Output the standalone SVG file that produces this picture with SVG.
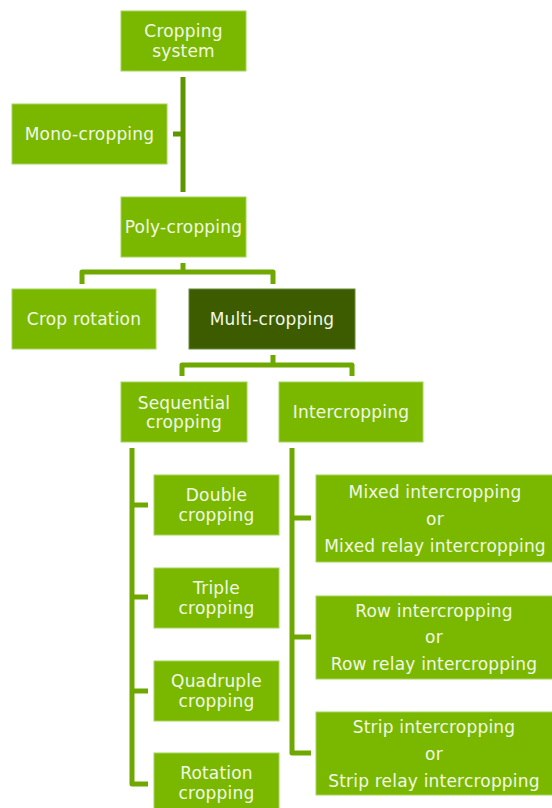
<svg xmlns="http://www.w3.org/2000/svg" width="552" height="808" viewBox="0 0 552 808">
<style>
.box{fill:#7ab800;stroke:#a6d35a;stroke-width:1}
.dark{fill:#3d5c00;stroke:#6a8a3a;stroke-width:1}
.t{font-family:"DejaVu Sans",Verdana,sans-serif;font-size:17px;letter-spacing:0.2px;fill:#f2f8e6;text-anchor:middle}
.c{fill:none;stroke:#6ea800;stroke-width:5;stroke-linejoin:round}
.c1{fill:none;stroke:#5f9600;stroke-width:5}
</style>
<rect width="552" height="808" fill="#ffffff"/>
<g id="connectors">
<path class="c1" d="M183 77V192M173 134H183"/>
<path class="c" d="M183 263V272M82 284V272H273V284"/>
<path class="c" d="M273 355V365M182 376V365H352V376"/>
<path class="c" d="M132 448V784H148M132 505H148M132 597H148M132 691H148"/>
<path class="c" d="M292 448V753H311M292 518H311M292 637H311"/>
</g>
<g id="n-cropping-system"><rect class="box" x="121" y="11" width="125" height="60"/><text class="t" x="183.5" y="37">Cropping</text><text class="t" x="183.5" y="57">system</text></g>
<g id="n-mono"><rect class="box" x="12" y="104" width="155" height="60"/><text class="t" x="89.5" y="140">Mono-cropping</text></g>
<g id="n-poly"><rect class="box" x="121" y="197" width="125" height="60"/><text class="t" x="183.5" y="233">Poly-cropping</text></g>
<g id="n-crop-rotation"><rect class="box" x="12" y="289" width="144" height="60"/><text class="t" x="84" y="325">Crop rotation</text></g>
<g id="n-multi"><rect class="dark" x="189" y="289" width="166" height="60"/><text class="t" x="272" y="325">Multi-cropping</text></g>
<g id="n-sequential"><rect class="box" x="121" y="382" width="126" height="60"/><text class="t" x="184" y="409">Sequential</text><text class="t" x="184" y="428">cropping</text></g>
<g id="n-intercropping"><rect class="box" x="279" y="382" width="144" height="60"/><text class="t" x="351" y="418">Intercropping</text></g>
<g id="n-double"><rect class="box" x="154" y="475" width="125" height="60"/><text class="t" x="216.5" y="501">Double</text><text class="t" x="216.5" y="521">cropping</text></g>
<g id="n-triple"><rect class="box" x="154" y="568" width="125" height="60"/><text class="t" x="216.5" y="594">Triple</text><text class="t" x="216.5" y="614">cropping</text></g>
<g id="n-quadruple"><rect class="box" x="154" y="661" width="125" height="60"/><text class="t" x="216.5" y="687">Quadruple</text><text class="t" x="216.5" y="707">cropping</text></g>
<g id="n-rotation"><rect class="box" x="154" y="753" width="125" height="60"/><text class="t" x="216.5" y="779">Rotation</text><text class="t" x="216.5" y="799">cropping</text></g>
<g id="n-mixed"><rect class="box" x="316" y="475" width="237" height="87"/><text class="t" x="435" y="498">Mixed intercropping</text><text class="t" x="435" y="525">or</text><text class="t" x="435" y="552">Mixed relay intercropping</text></g>
<g id="n-row"><rect class="box" x="316" y="596" width="237" height="83"/><text class="t" x="434" y="617">Row intercropping</text><text class="t" x="434" y="643">or</text><text class="t" x="434" y="670">Row relay intercropping</text></g>
<g id="n-strip"><rect class="box" x="316" y="712" width="237" height="83"/><text class="t" x="434" y="733">Strip intercropping</text><text class="t" x="434" y="760">or</text><text class="t" x="434" y="787">Strip relay intercropping</text></g>
</svg>
